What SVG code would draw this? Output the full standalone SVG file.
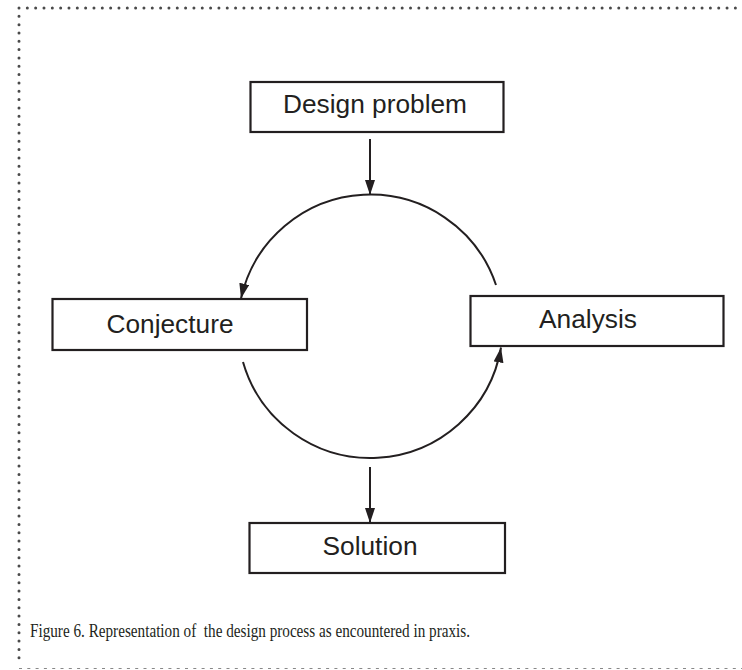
<svg xmlns="http://www.w3.org/2000/svg" width="742" height="670" viewBox="0 0 742 670">
<style>
.box{fill:#fff;stroke:#231f20;stroke-width:2.2}
.lbl{font-family:"Liberation Sans",Arial,sans-serif;font-size:25.5px;fill:#231f20;text-anchor:middle}
.con{fill:none;stroke:#231f20;stroke-width:2}
.dot{fill:none;stroke:#4a4a4a;stroke-width:3;stroke-linecap:round;stroke-dasharray:0 8.33}
</style>
<defs>
<marker id="ah" markerUnits="userSpaceOnUse" markerWidth="16" markerHeight="12" refX="15" refY="5" orient="auto">
<path d="M0,0 L15,5 L0,10 z" fill="#231f20"/>
</marker>
</defs>
<g id="frame">
<line class="dot" x1="19" y1="8" x2="742" y2="8"/>
<line class="dot" x1="19" y1="16.3" x2="19" y2="662"/>
<line x1="19" y1="668.5" x2="742" y2="668.5" stroke="#888" stroke-width="1.2" stroke-dasharray="3 5.3"/>
</g>
<g id="connectors">
<line class="con" x1="370" y1="139" x2="370" y2="195" marker-end="url(#ah)"/>
<path class="con" d="M 496 285 A 132.5 132.5 0 0 0 241 298.5" marker-end="url(#ah)"/>
<path class="con" d="M 243 362 A 132.5 132.5 0 0 0 501 347.5" marker-end="url(#ah)"/>
<line class="con" x1="370" y1="467" x2="370" y2="523" marker-end="url(#ah)"/>
</g>
<g id="design-problem">
<rect class="box" x="250.5" y="82" width="253" height="50"/>
<text class="lbl" x="375" y="113" textLength="184" lengthAdjust="spacingAndGlyphs">Design problem</text>
</g>
<g id="conjecture">
<rect class="box" x="52.5" y="299" width="254.5" height="51"/>
<text class="lbl" x="170" y="333" textLength="127" lengthAdjust="spacingAndGlyphs">Conjecture</text>
</g>
<g id="analysis">
<rect class="box" x="470.5" y="296" width="253" height="50"/>
<text class="lbl" x="588" y="328" textLength="98" lengthAdjust="spacingAndGlyphs">Analysis</text>
</g>
<g id="solution">
<rect class="box" x="249.5" y="523" width="255.5" height="50"/>
<text class="lbl" x="370" y="555" textLength="95" lengthAdjust="spacingAndGlyphs">Solution</text>
</g>
<text id="caption" x="30" y="637" font-family="'Liberation Serif','Times New Roman',serif" font-size="18.5" fill="#231f20" textLength="440" lengthAdjust="spacingAndGlyphs" xml:space="preserve">Figure 6. Representation of  the design process as encountered in praxis.</text>
</svg>
